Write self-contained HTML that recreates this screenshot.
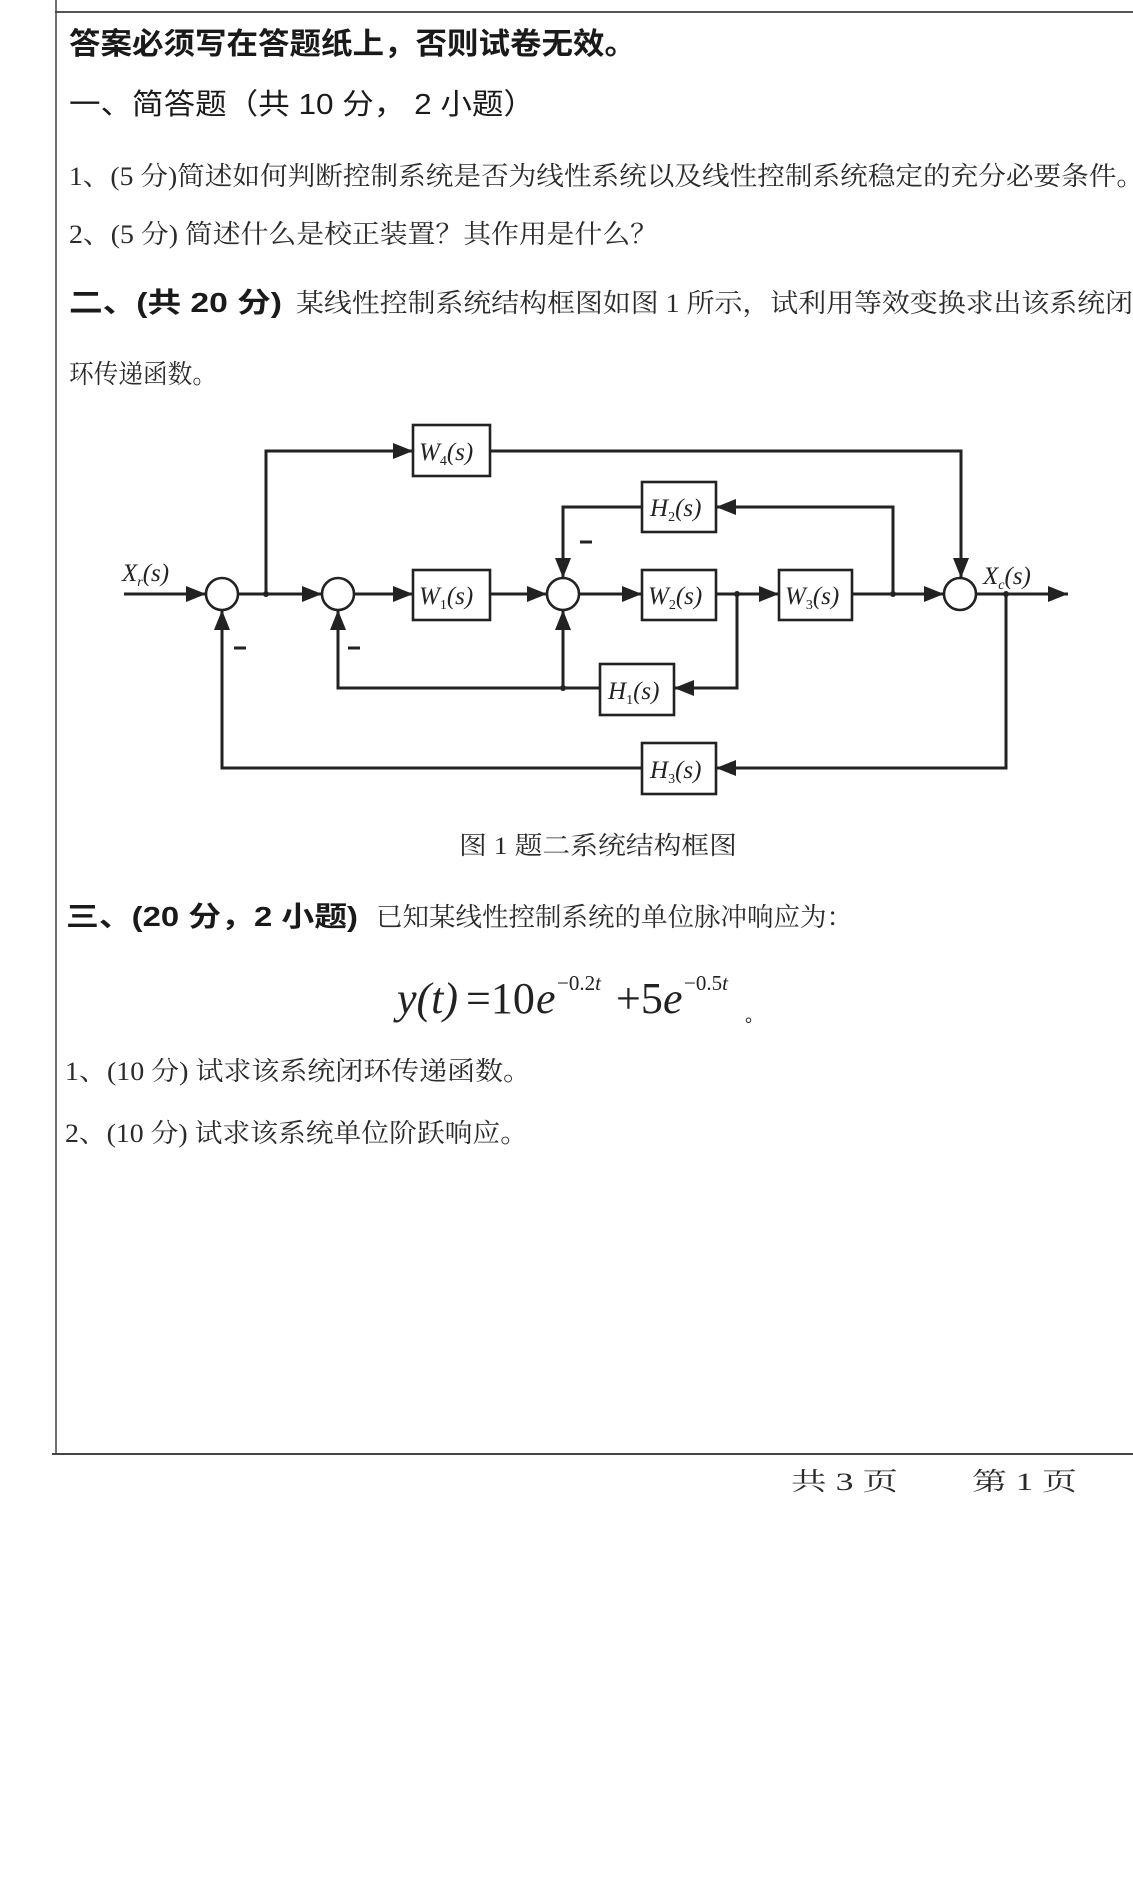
<!DOCTYPE html>
<html><head><meta charset="utf-8"><style>
html,body{margin:0;padding:0;background:#fff;}
svg{display:block;}
.b{font-family:"Liberation Sans","Noto Sans CJK SC",sans-serif;font-weight:bold;fill:#1a1a1a;}
.t{font-family:"Liberation Serif","Noto Serif CJK SC",serif;fill:#2a2a2a;}
.m{font-family:"Liberation Serif",serif;font-style:italic;fill:#222;}
.n{font-family:"Liberation Serif",serif;fill:#222;}
.ln{stroke:#222;stroke-width:3;fill:none;}
.bx{stroke:#222;stroke-width:2.6;fill:#fff;}
</style></head><body>
<svg width="1133" height="1887" viewBox="0 0 1133 1887" xmlns="http://www.w3.org/2000/svg">
<defs>
<marker id="a" markerUnits="userSpaceOnUse" markerWidth="20" markerHeight="16" refX="20" refY="8" orient="auto">
<path d="M0,0 L20,8 L0,16 z" fill="#222"/></marker>
</defs>
<rect width="1133" height="1887" fill="#fff"/>
<line x1="55" y1="12" x2="1133" y2="12" stroke="#555" stroke-width="2"/>
<line x1="56" y1="0" x2="56" y2="1455" stroke="#444" stroke-width="1.5"/>
<line x1="52" y1="1454" x2="1133" y2="1454" stroke="#444" stroke-width="2"/>

<text class="b" x="69" y="54" font-size="30" textLength="567" lengthAdjust="spacingAndGlyphs">答案必须写在答题纸上，否则试卷无效。</text>
<text class="b" x="69" y="114" font-size="29" textLength="466" lengthAdjust="spacingAndGlyphs" style="font-weight:normal">一、简答题（共 10 分， 2 小题）</text>
<text class="t" x="69" y="185" font-size="26" textLength="1075" lengthAdjust="spacingAndGlyphs">1、(5 分)简述如何判断控制系统是否为线性系统以及线性控制系统稳定的充分必要条件。</text>
<text class="t" x="69" y="243" font-size="26" textLength="589" lengthAdjust="spacingAndGlyphs">2、(5 分) 简述什么是校正装置？其作用是什么？</text>
<text class="b" x="69" y="312" font-size="28" textLength="213" lengthAdjust="spacingAndGlyphs">二、(共 20 分)</text>
<text class="t" x="296" y="312" font-size="26" textLength="837" lengthAdjust="spacingAndGlyphs">某线性控制系统结构框图如图 1 所示，试利用等效变换求出该系统闭</text>
<text class="t" x="69" y="383" font-size="26" textLength="148" lengthAdjust="spacingAndGlyphs">环传递函数。</text>

<g>
<rect class="bx" x="413" y="425" width="77" height="51"/>
<rect class="bx" x="642" y="482" width="74" height="50"/>
<rect class="bx" x="413" y="570" width="77" height="50"/>
<rect class="bx" x="642" y="570" width="74" height="50"/>
<rect class="bx" x="779" y="570" width="73" height="50"/>
<rect class="bx" x="600" y="664" width="74" height="51"/>
<rect class="bx" x="642" y="743" width="74" height="51"/>
<circle class="bx" cx="222" cy="594" r="16"/>
<circle class="bx" cx="338" cy="594" r="16"/>
<circle class="bx" cx="563" cy="594" r="16"/>
<circle class="bx" cx="960" cy="594" r="16"/>
<line class="ln" x1="124" y1="594" x2="206" y2="594" marker-end="url(#a)"/>
<line class="ln" x1="238" y1="594" x2="322" y2="594" marker-end="url(#a)"/>
<line class="ln" x1="354" y1="594" x2="413" y2="594" marker-end="url(#a)"/>
<line class="ln" x1="490" y1="594" x2="547" y2="594" marker-end="url(#a)"/>
<line class="ln" x1="579" y1="594" x2="642" y2="594" marker-end="url(#a)"/>
<line class="ln" x1="716" y1="594" x2="779" y2="594" marker-end="url(#a)"/>
<line class="ln" x1="852" y1="594" x2="944" y2="594" marker-end="url(#a)"/>
<line class="ln" x1="976" y1="594" x2="1068" y2="594" marker-end="url(#a)"/>
<polyline class="ln" points="266,594 266,451 413,451" marker-end="url(#a)"/>
<polyline class="ln" points="490,451 961,451 961,578" marker-end="url(#a)"/>
<polyline class="ln" points="893,594 893,507 716,507" marker-end="url(#a)"/>
<polyline class="ln" points="642,507 563,507 563,578" marker-end="url(#a)"/>
<polyline class="ln" points="737,594 737,688 674,688" marker-end="url(#a)"/>
<polyline class="ln" points="600,688 338,688 338,610" marker-end="url(#a)"/>
<line class="ln" x1="563" y1="688" x2="563" y2="610" marker-end="url(#a)"/>
<polyline class="ln" points="1006,594 1006,768 716,768" marker-end="url(#a)"/>
<polyline class="ln" points="642,768 222,768 222,610" marker-end="url(#a)"/>
<circle cx="266" cy="594" r="3" fill="#222"/>
<circle cx="737" cy="594" r="3" fill="#222"/>
<circle cx="893" cy="594" r="3" fill="#222"/>
<circle cx="1006" cy="594" r="3" fill="#222"/>
<circle cx="563" cy="688" r="3" fill="#222"/>
<line x1="234" y1="648" x2="246" y2="648" stroke="#222" stroke-width="3"/>
<line x1="348" y1="648" x2="360" y2="648" stroke="#222" stroke-width="3"/>
<line x1="580" y1="542" x2="592" y2="542" stroke="#222" stroke-width="3"/>
<text class="m" x="419" y="460" font-size="25">W<tspan font-size="14" dy="5" font-style="normal">4</tspan><tspan dy="-5">(s)</tspan></text>
<text class="m" x="650" y="516" font-size="25">H<tspan font-size="14" dy="5" font-style="normal">2</tspan><tspan dy="-5">(s)</tspan></text>
<text class="m" x="419" y="604" font-size="25">W<tspan font-size="14" dy="5" font-style="normal">1</tspan><tspan dy="-5">(s)</tspan></text>
<text class="m" x="648" y="604" font-size="25">W<tspan font-size="14" dy="5" font-style="normal">2</tspan><tspan dy="-5">(s)</tspan></text>
<text class="m" x="785" y="604" font-size="25">W<tspan font-size="14" dy="5" font-style="normal">3</tspan><tspan dy="-5">(s)</tspan></text>
<text class="m" x="608" y="699" font-size="25">H<tspan font-size="14" dy="5" font-style="normal">1</tspan><tspan dy="-5">(s)</tspan></text>
<text class="m" x="650" y="778" font-size="25">H<tspan font-size="14" dy="5" font-style="normal">3</tspan><tspan dy="-5">(s)</tspan></text>
<text class="m" x="122" y="581" font-size="25">X<tspan font-size="14" dy="5">r</tspan><tspan dy="-5">(s)</tspan></text>
<text class="m" x="983" y="584" font-size="25">X<tspan font-size="14" dy="5">c</tspan><tspan dy="-5">(s)</tspan></text>
</g>

<text class="t" x="459" y="854" font-size="25" textLength="278" lengthAdjust="spacingAndGlyphs">图 1 题二系统结构框图</text>
<text class="b" x="66" y="926" font-size="28" textLength="292" lengthAdjust="spacingAndGlyphs">三、(20 分，2 小题)</text>
<text class="t" x="376" y="926" font-size="26" textLength="477" lengthAdjust="spacingAndGlyphs">已知某线性控制系统的单位脉冲响应为：</text>
<!-- formula -->
<text class="m" x="397" y="1013" font-size="44">y(t)</text>
<text class="n" x="466" y="1013" font-size="44">=10</text>
<text class="m" x="536" y="1013" font-size="44">e</text>
<text class="n" x="557" y="990" font-size="21">−0.2<tspan font-style="italic">t</tspan></text>
<text class="n" x="616" y="1013" font-size="44">+5</text>
<text class="m" x="663" y="1013" font-size="44">e</text>
<text class="n" x="684" y="990" font-size="21">−0.5<tspan font-style="italic">t</tspan></text>
<text class="n" x="745" y="1022" font-size="18">。</text>
<text class="t" x="65" y="1080" font-size="26" textLength="466" lengthAdjust="spacingAndGlyphs">1、(10 分) 试求该系统闭环传递函数。</text>
<text class="t" x="65" y="1142" font-size="26" textLength="463" lengthAdjust="spacingAndGlyphs">2、(10 分) 试求该系统单位阶跃响应。</text>
<text class="t" x="791" y="1490" font-size="25" textLength="107" lengthAdjust="spacingAndGlyphs">共 3 页</text>
<text class="t" x="972" y="1490" font-size="25" textLength="105" lengthAdjust="spacingAndGlyphs">第 1 页</text>
</svg>
</body></html>
